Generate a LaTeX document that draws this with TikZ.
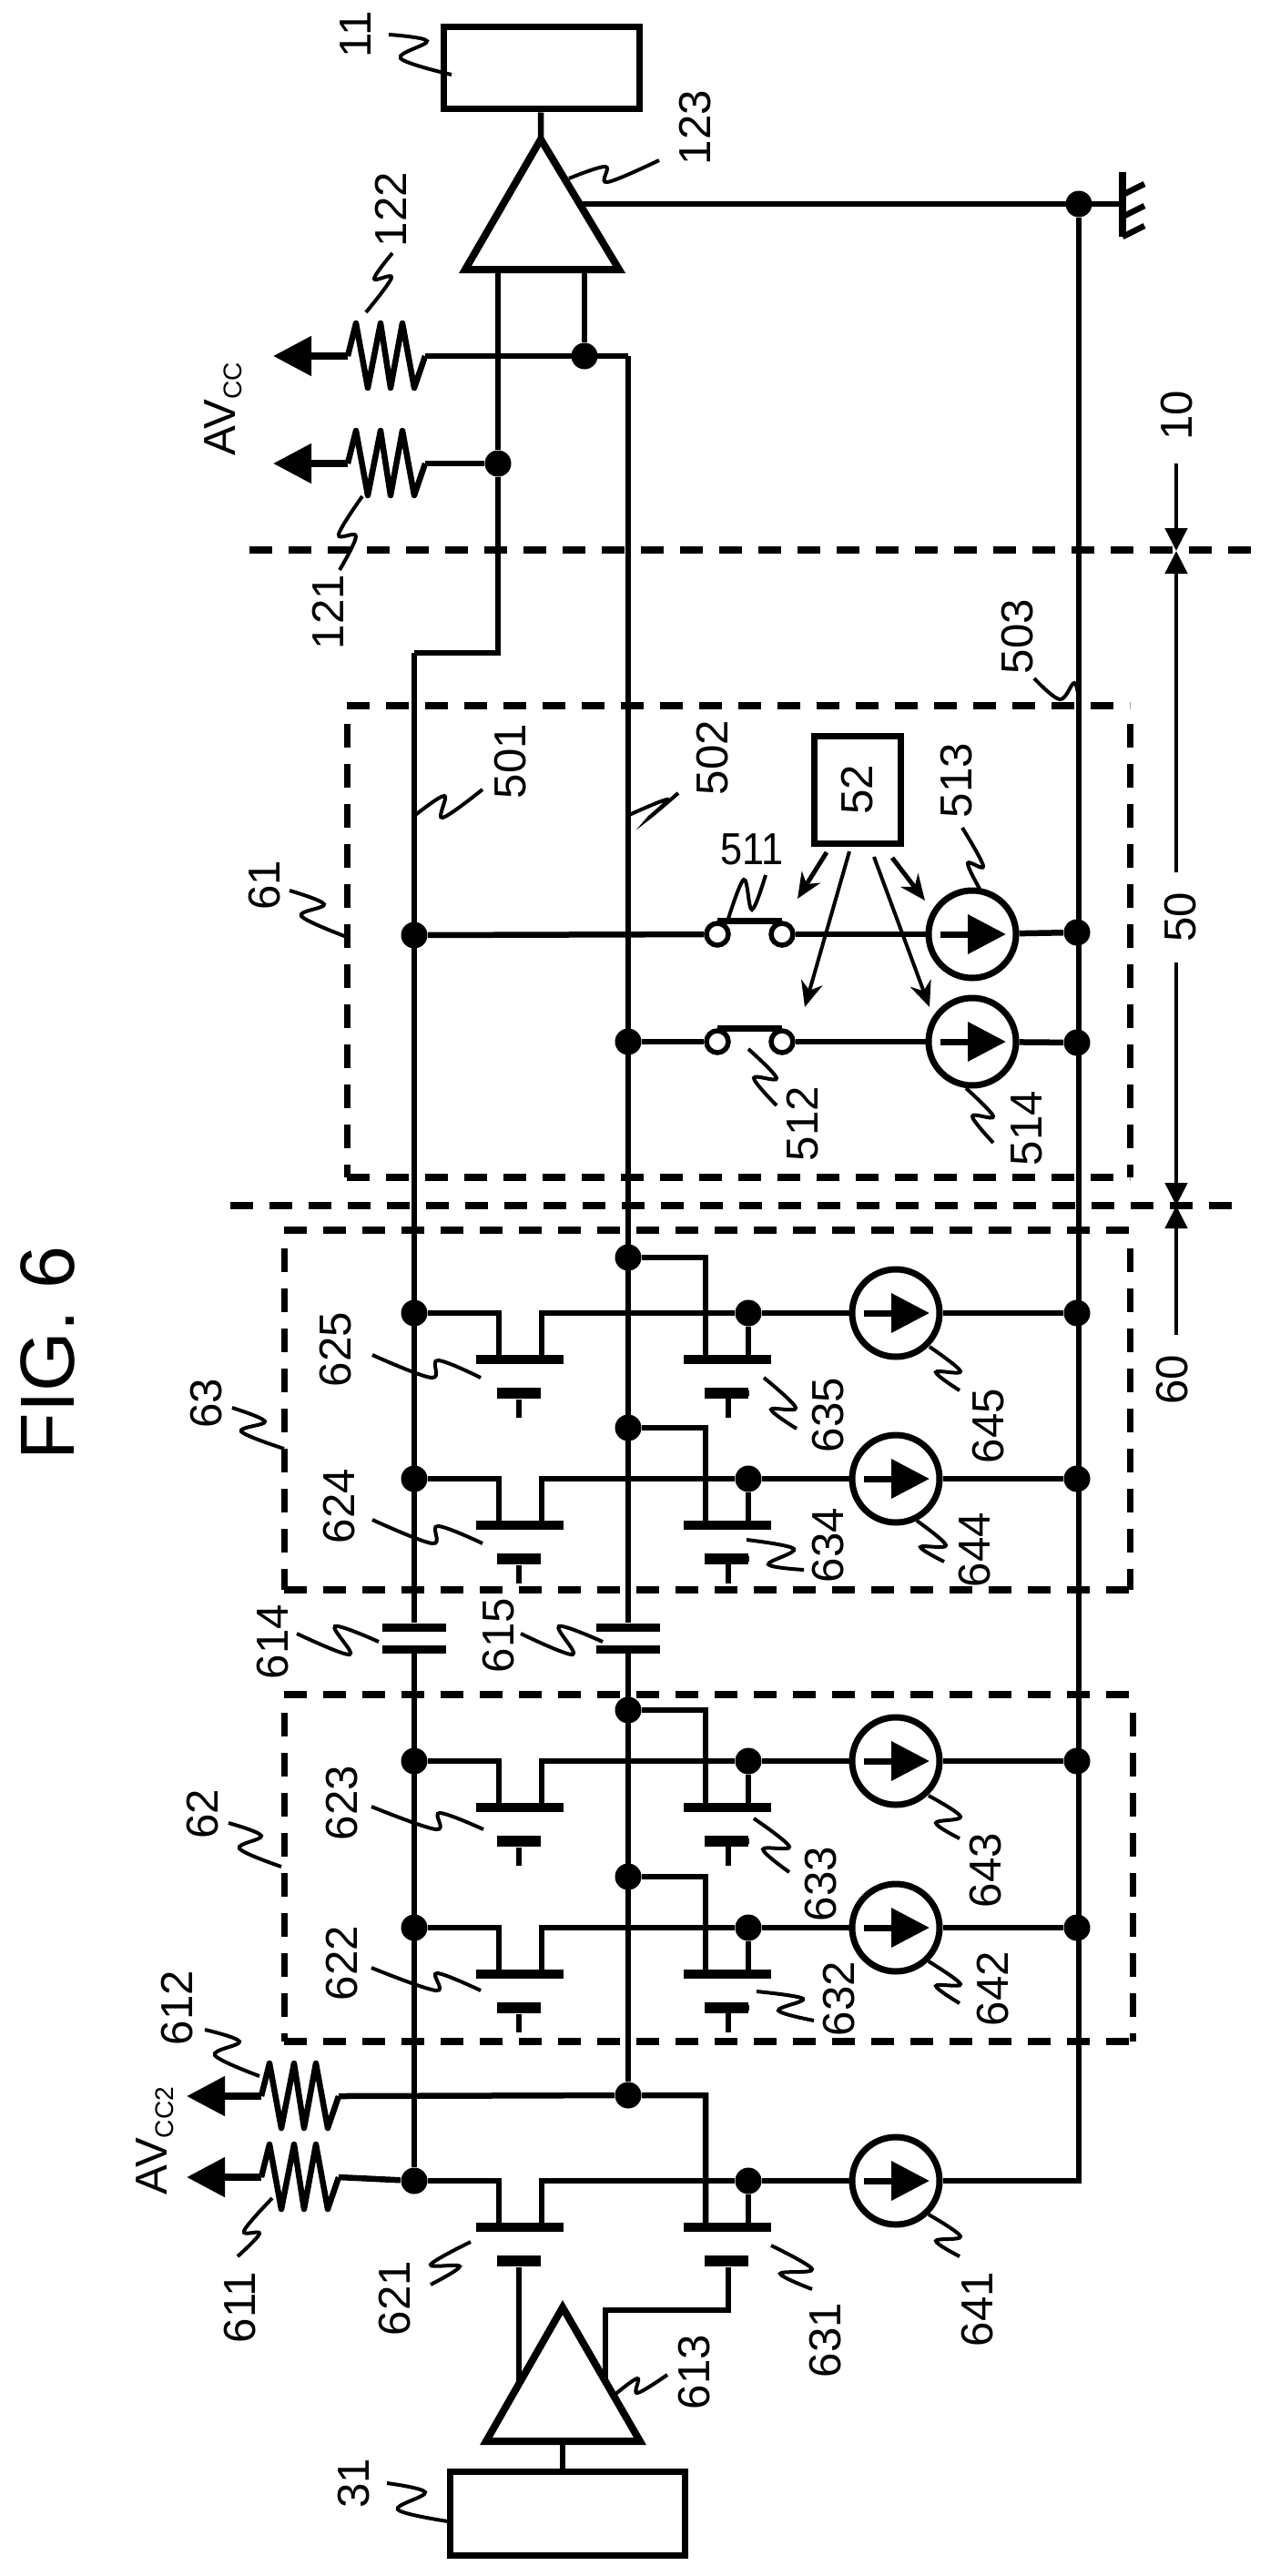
\documentclass[tikz,border=0pt]{standalone}
\usepackage{fontspec}
\setmainfont{Liberation Sans}
\usetikzlibrary{arrows.meta,calc}

\newcommand{\reffont}{\fontsize{14}{16}\selectfont}

\tikzset{
  wire/.style={line width=.065cm},
  heavy/.style={line width=.08cm},
  leader/.style={line width=.04cm},
  dot/.style={circle,fill=black,minimum size=.29cm,inner sep=0pt},
  numlabel/.style={rotate=90,inner sep=0pt,font=\reffont},
  block/.style={draw,line width=.07cm,inner sep=0pt,font=\reffont},
  csource/.style={circle,draw,line width=.07cm,minimum size=.96cm,inner sep=0pt},
  bar/.style={rectangle,fill=black,minimum width=.96cm,minimum height=.1cm,inner sep=0pt},
  gatebar/.style={rectangle,fill=black,minimum width=.48cm,minimum height=.12cm,inner sep=0pt},
  plate/.style={rectangle,fill=black,minimum width=.7cm,minimum height=.09cm,inner sep=0pt},
  contact/.style={circle,draw,line width=.055cm,minimum size=.24cm,inner sep=0pt},
  dashh/.style={line width=.08cm,dash pattern=on .25cm off .18cm},
  dashv/.style={line width=.07cm,dash pattern=on .26cm off .18cm},
  shaft/.style={line width=.07cm,-{Triangle[length=.42cm,width=.42cm]}},
  rail/.style={line width=.08cm,-{Triangle[length=.42cm,width=.42cm]}},
  ctrl/.style={line width=.04cm,-{Stealth[length=.28cm,width=.24cm]}},
  dimline/.style={line width=.047cm,-{Triangle[length=.25cm,width=.24cm]}}
}

% reference number with its wavy leader
\newcommand{\lead}[6]{
  \node[numlabel] (l#1) at (#2) {#1};
  \draw[leader] plot[smooth,tension=.6] coordinates {(#3) (#4) (#5) (#6)};
}

% current source with the arrow inside
\newcommand{\cursrc}[3]{
  \node[csource] (#1) at (#2,#3) {};
  \draw[shaft] ($(#1)+(-.35,0)$) -- ($(#1)+(.37,0)$);
}

% resistor zigzag, name, start x, row y
\newcommand{\resistor}[3]{
  \coordinate (#1a) at (#2,#3);
  \coordinate (#1b) at ($(#1a)+(.85,0)$);
  \coordinate (v#1) at ($(#1a)+(-.82,0)$);
  \draw[rail] (#1a) -- (v#1);
  \draw[wire,line join=round] (#1a) -- ++(.09,-.36) -- ++(.13,.71) -- ++(.14,-.71) -- ++(.11,.71)
        -- ++(.13,-.71) -- ++(.13,.71) -- (#1b);
}

% two transistors and a current source on one row
\newcommand{\mosrow}[4]{
  \begin{scope}[shift={(0,#4)}]
    \node[dot] (d#1) at (4.55,0) {};
    \node[dot] (t#2) at (8.22,0) {};
    \node[bar] (b#1) at (5.71,.51) {};
    \node[bar] (b#2) at (7.99,.51) {};
    \node[gatebar] (g#1) at (5.70,.88) {};
    \node[gatebar] (g#2) at (7.98,.88) {};
    \coordinate (s#1) at (5.48,0);
    \coordinate (r#1) at (5.95,0);
    \cursrc{cs#3}{9.84}{0}
  \end{scope}
  \draw[wire] (d#1) -- (s#1) -- (s#1 |- b#1);
  \draw[wire] (r#1 |- b#1) -- (r#1) -- (t#2);
  \draw[wire] (t#2) -- (cs#3);
  \draw[wire] (t#2) -- (t#2 |- b#2);
}

% complete stage, tapped on both lines
\newcommand{\stage}[5]{
  \mosrow{#1}{#2}{#3}{#4}
  \node[dot] (f#2) at (6.90,#5) {};
  \coordinate (q#2) at (7.75,#5);
  \node[dot] (e#3) at (11.83,#4) {};
  \draw[wire] (f#2) -- (q#2) -- (q#2 |- b#2);
  \draw[wire] (cs#3) -- (e#3);
  \draw[wire] (g#1) -- ++(0,.27);
  \draw[wire] (g#2) -- ++(.02,0) -- ++(0,.27);
}

% dashed frame
\newcommand{\frameline}[4]{
  \draw[dashh] (#1,#2) -- (#3,#2);
  \draw[dashh] (#1,#4) -- (#3,#4);
  \draw[dashv] (#1,#2+.2) -- (#1,#4);
  \draw[dashv] (#3,#2+.2) -- (#3,#4);
}

\begin{document}
\begin{tikzpicture}[y=-1cm]

  \useasboundingbox (0,0) rectangle (13.94,28.29);

  % Output side
  \node[block,minimum width=2.15cm,minimum height=.9cm] (b11) at (5.945,.75) {};
  \coordinate (t123) at (5.94,1.53);
  \coordinate (t123l) at (5.11,2.96);
  \coordinate (t123r) at (6.80,2.96);
  \draw[heavy] (t123) -- (t123l) -- (t123r) -- cycle;
  \draw[wire] (b11) -- (t123);

  % Supply resistors
  \resistor{r122}{3.82}{3.91}
  \resistor{r121}{3.82}{5.09}
  \node[numlabel,anchor=base] (avcc) at (2.58,4.49)
        {AV\raisebox{-.3ex}{\fontsize{8}{9}\selectfont CC}};

  % Lines 501, 502, 503
  \coordinate (in501) at (5.47,2.96);
  \coordinate (in502) at (6.42,2.96);
  \node[dot] (d121) at (5.47,5.09) {};
  \node[dot] (d122) at (6.42,3.91) {};
  \coordinate (c501a) at (5.47,7.17);
  \coordinate (c501b) at (4.55,7.17);
  \coordinate (c502) at (6.90,3.91);
  \node[dot] (dgnd) at (11.85,2.24) {};
  \coordinate (gndtop) at (12.33,1.89);
  \coordinate (gndbot) at (12.33,2.60);
  \coordinate (gndw) at (12.33,2.24);
  \coordinate (trout) at (6.40,2.24);
  \draw[heavy] (gndtop) -- (gndbot);
  \draw[wire] (trout) -- (gndw);
  \foreach \y in {2.14,2.38,2.60}
    \draw[wire] (12.33,\y) -- ++(.24,-.12);
  \draw[wire] (in501) -- (d121) -- (c501a) -- (c501b);
  \draw[wire] (in502) -- (d122);
  \draw[wire] (r122b) -- (c502);
  \draw[wire] (r121b) -- (d121);

  % Switch section
  \node[dot] (d511) at (4.55,10.27) {};
  \node[dot] (d512) at (6.90,11.44) {};
  \foreach \n/\y in {511/10.26,512/11.44} {
    \node[contact] (sa\n) at (7.88,\y) {};
    \node[contact] (sb\n) at (8.59,\y) {};
    \draw[wire] (sa\n.north) -- (sb\n.north);
  }
  \cursrc{cs513}{10.68}{10.26}
  \cursrc{cs514}{10.68}{11.44}
  \node[dot] (e513) at (11.83,10.24) {};
  \node[dot] (e514) at (11.83,11.45) {};
  \draw[wire] (d511) -- (sa511);
  \draw[wire] (sb511) -- (cs513);
  \draw[wire] (cs513) -- (e513);
  \draw[wire] (d512) -- (sa512);
  \draw[wire] (sb512) -- (cs514);
  \draw[wire] (cs514) -- (e514);

  % Control block
  \node[block,rotate=90,minimum width=1.18cm,minimum height=.95cm] (b52) at (9.42,8.67) {52};
  \coordinate (c1) at (9.08,9.36);
  \coordinate (c2) at (9.33,9.35);
  \coordinate (c3) at (9.60,9.41);
  \coordinate (c4) at (9.80,9.42);
  \coordinate (s1) at (8.76,9.87);
  \coordinate (s2) at (8.84,11.06);
  \coordinate (s3) at (10.21,11.06);
  \coordinate (s4) at (10.16,9.89);
  \draw[ctrl,line width=.05cm] (c1) -- (s1);
  \draw[ctrl] (c2) -- (s2);
  \draw[ctrl] (c3) -- (s3);
  \draw[ctrl,line width=.05cm] (c4) -- (s4);

  % Differential stages
  \stage{625}{635}{645}{14.42}{13.81}
  \stage{624}{634}{644}{16.24}{15.68}
  \stage{623}{633}{643}{19.34}{18.78}
  \stage{622}{632}{642}{21.17}{20.61}
  \mosrow{621}{631}{641}{23.95}

  % Coupling capacitors
  \node[plate] (p614a) at (4.55,17.87) {};
  \node[plate] (p614b) at (4.55,18.11) {};
  \node[plate] (p615a) at (6.90,17.87) {};
  \node[plate] (p615b) at (6.90,18.11) {};

  % Input resistors
  \resistor{r612}{2.87}{23.02}
  \resistor{r611}{2.87}{23.91}
  \node[numlabel,anchor=base] (avcc2) at (1.83,23.51)
        {AV\raisebox{-.3ex}{\fontsize{8}{9}\selectfont CC2}};
  \node[dot] (d612) at (6.90,23.01) {};
  \coordinate (q631) at (7.75,23.01);
  \draw[wire] (r612b) -- (d612) -- (q631) -- (q631 |- b631);
  \draw[wire] (r611b) -- (d621);

  % The long lines
  \draw[wire] (c501b) -- (p614a);
  \draw[wire] (p614b) -- (d621);
  \draw[wire] (c502) -- (p615a);
  \draw[wire] (p615b) -- (d612);
  \coordinate (c503) at (11.85,23.95);
  \draw[wire] (dgnd) -- (c503) -- (cs641);

  % Input side
  \coordinate (t613) at (6.18,25.34);
  \coordinate (t613l) at (5.34,26.81);
  \coordinate (t613r) at (7.03,26.81);
  \draw[heavy] (t613) -- (t613l) -- (t613r) -- cycle;
  \node[block,minimum width=2.58cm,minimum height=.92cm] (b31) at (6.23,27.60) {};
  \draw[wire] (6.18,26.81) -- (6.18,27.14);
  \coordinate (g1end) at (5.70,26.18);
  \coordinate (g2a) at (8.00,25.37);
  \coordinate (g2b) at (6.65,25.37);
  \coordinate (g2c) at (6.65,26.15);
  \draw[wire] (g621) -- (g1end);
  \draw[wire] (g631.south -| g2a) -- (g2a) -- (g2b) -- (g2c);

  % Dashed frames and dividers
  \frameline{3.81}{7.75}{12.41}{12.93}
  \frameline{3.12}{13.51}{12.41}{17.46}
  \frameline{3.12}{18.61}{12.44}{22.42}
  \draw[dashh] (2.74,6.04) -- (13.8,6.04);
  \draw[dashh] (2.53,13.24) -- (13.55,13.24);

  % Dimension arrows
  \coordinate (m1) at (12.92,5.09);
  \coordinate (m2) at (12.92,6.05);
  \coordinate (m3) at (12.92,9.58);
  \coordinate (m4) at (12.92,10.57);
  \coordinate (m5) at (12.92,13.24);
  \coordinate (m6) at (12.92,14.66);
  \draw[dimline] (m1) -- (m2);
  \draw[dimline] (m3) -- (m2);
  \draw[dimline] (m4) -- (m5);
  \draw[dimline] (m6) -- (m5);
  \node[numlabel] (l10) at (12.93,4.56) {10};
  \node[numlabel] (l50) at (12.97,10.07) {50};
  \node[numlabel] (l60) at (12.88,15.15) {60};

  % Figure title
  \node[rotate=90,inner sep=0pt,font=\fontsize{24}{28}\selectfont] (fig) at (0.52,14.86) {FIG. 6};

  % Reference numbers
  \lead{11}{3.91,.38}{4.96,.82}{4.40,.64}{4.69,.45}{4.27,.38}
  \lead{123}{7.64,1.40}{6.25,1.96}{6.65,1.83}{6.67,2.00}{7.24,1.76}
  \lead{122}{4.29,2.30}{4.02,3.43}{4.30,3.05}{4.11,3.06}{4.31,2.78}
  \lead{121}{3.60,6.72}{3.98,5.45}{3.72,5.87}{3.91,5.89}{3.73,6.26}
  \lead{503}{11.18,6.99}{11.36,7.45}{11.64,7.68}{11.80,7.50}{11.85,7.70}
  \lead{501}{5.61,8.36}{4.55,8.96}{4.88,8.74}{4.86,8.98}{5.30,8.67}
  \lead{502}{7.83,8.32}{6.91,8.95}{7.33,8.78}{7.13,8.98}{7.45,8.71}
  \lead{513}{10.51,8.57}{10.57,9.09}{10.80,9.51}{10.63,9.48}{10.76,9.76}
  \lead{514}{11.28,12.39}{10.61,11.95}{10.91,12.26}{10.68,12.26}{10.91,12.55}
  \lead{512}{8.82,12.34}{8.22,11.52}{8.53,11.84}{8.28,11.84}{8.53,12.14}
  \lead{61}{2.91,9.72}{3.81,10.29}{3.31,10.06}{3.56,9.93}{3.18,9.78}
  \lead{63}{2.27,15.41}{3.12,15.91}{2.65,15.72}{2.91,15.61}{2.55,15.46}
  \lead{625}{3.69,14.82}{4.09,14.88}{4.74,15.13}{4.81,14.94}{5.28,15.13}
  \lead{624}{3.73,16.54}{4.09,16.69}{4.75,16.95}{4.81,16.76}{5.30,16.95}
  \lead{635}{9.10,15.54}{8.39,15.13}{8.74,15.46}{8.47,15.48}{8.75,15.69}
  \lead{634}{9.10,16.97}{8.20,16.91}{8.72,17.01}{8.44,17.18}{8.83,17.24}
  \lead{645}{10.86,15.66}{10.21,14.79}{10.55,15.06}{10.28,15.07}{10.54,15.27}
  \lead{644}{10.71,17.02}{10.07,16.70}{10.39,16.97}{10.11,16.99}{10.37,17.15}
  \lead{614}{3.00,18.03}{3.26,17.94}{3.84,18.17}{3.68,17.86}{4.16,18.03}
  \lead{615}{5.48,17.96}{5.72,17.94}{6.29,18.17}{6.14,17.86}{6.62,18.03}
  \lead{62}{2.23,19.92}{3.09,20.50}{2.63,20.30}{2.87,20.16}{2.51,20.02}
  \lead{623}{3.76,19.80}{4.08,19.84}{4.79,20.09}{4.83,19.91}{5.31,20.09}
  \lead{622}{3.76,21.56}{4.08,21.61}{4.79,21.86}{4.80,21.67}{5.28,21.86}
  \lead{633}{9.02,20.69}{8.28,19.97}{8.67,20.28}{8.38,20.31}{8.67,20.56}
  \lead{632}{9.22,21.95}{8.31,21.87}{8.82,21.95}{8.55,22.08}{8.94,22.19}
  \lead{643}{10.83,20.54}{10.20,19.72}{10.55,19.95}{10.28,20.02}{10.54,20.19}
  \lead{642}{10.91,21.84}{10.20,21.54}{10.55,21.79}{10.28,21.81}{10.54,22.00}
  \lead{612}{1.95,22.05}{2.85,22.80}{2.36,22.57}{2.63,22.42}{2.25,22.29}
  \lead{611}{2.64,25.34}{2.99,24.14}{2.68,24.50}{2.85,24.53}{2.61,24.78}
  \lead{621}{4.34,25.24}{5.17,24.62}{4.73,24.87}{5.05,24.89}{4.73,25.09}
  \lead{631}{9.07,25.70}{8.47,24.66}{8.92,24.92}{8.57,24.97}{8.92,25.14}
  \lead{641}{10.74,25.36}{10.20,24.32}{10.55,24.56}{10.28,24.61}{10.54,24.78}
  \lead{613}{7.63,26.05}{6.74,26.31}{7.00,26.12}{7.00,26.28}{7.33,26.08}
  \lead{31}{3.89,27.27}{4.92,27.69}{4.37,27.56}{4.67,27.37}{4.25,27.27}

  % 511 stands upright
  \node[inner sep=0pt,font=\reffont] (l511) at (8.26,9.33) {\scalebox{.88}[1]{511}};
  \draw[leader] plot[smooth,tension=.6] coordinates {(8.41,9.61) (8.26,9.99) (8.17,9.66) (7.99,10.12)};

\end{tikzpicture}
\end{document}
